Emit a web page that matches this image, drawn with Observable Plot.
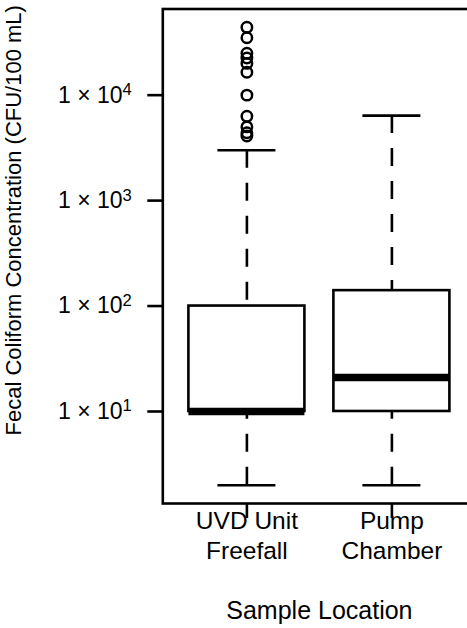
<!DOCTYPE html>
<html>
<head>
<meta charset="utf-8">
<script src="https://cdn.jsdelivr.net/npm/d3@7"></script>
<script src="https://cdn.jsdelivr.net/npm/@observablehq/plot@0.6"></script>
<style>
  html, body { margin: 0; padding: 0; background: #fff; }
  #chart { width: 467px; height: 628px; overflow: hidden; }
</style>
</head>
<body>
<div id="chart"></div>
<script>
// Sample locations (x categories)
const locations = ["UVD Unit\nFreefall", "Pump\nChamber"];

// Box-and-whisker statistics, CFU/100 mL
const lowerWhisker = [2, 2];
const firstQuartile = [10, 10];
const medians = [10, 21];
const thirdQuartile = [100, 140];
const upperWhisker = [3000, 6400];

// Outlying samples at the UVD unit freefall
const uvdOutliers = [44000, 35000, 25000, 22500, 20000, 16500, 10000, 6300, 5000, 4400, 4100];

// Y-axis tick values
const yTicks = [10, 100, 1000, 10000];

const yTitle = "Fecal Coliform Concentration (CFU/100 mL)";
const xTitle = "Sample Location";

const boxes = locations.map((name, i) => ({
  name,
  pos: i + 1,
  lo: lowerWhisker[i],
  q1: firstQuartile[i],
  med: medians[i],
  q3: thirdQuartile[i],
  hi: upperWhisker[i]
}));
const outliers = uvdOutliers.map(v => ({pos: 1, value: v}));

// log-scale extent padded by 4% on each side
const allValues = [...lowerWhisker, ...upperWhisker, ...uvdOutliers];
const lmin = Math.log10(d3.min(allValues));
const lmax = Math.log10(d3.max(allValues));
const pad = 0.04 * (lmax - lmin);
const yDomain = [10 ** (lmin - pad), 10 ** (lmax + pad)];
const xDomain = [0.5 - 0.08, locations.length + 0.5 + 0.08];

const halfBox = 0.4, halfCap = 0.2;
const lw = 2.6;

const chart = Plot.plot({
  width: 467,
  height: 628,
  marginLeft: 162.3,
  marginRight: -8.5,
  marginTop: 8.5,
  marginBottom: 125,
  style: {fontFamily: "'Liberation Sans', Arial, sans-serif", fontSize: "22px", color: "black", background: "white"},
  x: {domain: xDomain},
  y: {type: "log", domain: yDomain},
  marks: [
    // dashed whiskers, drawn from the whisker end toward the box
    Plot.ruleX(boxes, {x: "pos", y1: "lo", y2: "q1", stroke: "black", strokeWidth: lw, strokeDasharray: "18,15"}),
    Plot.ruleX(boxes, {x: "pos", y1: "hi", y2: "q3", stroke: "black", strokeWidth: lw, strokeDasharray: "18,15"}),
    // whisker caps
    Plot.ruleY(boxes, {y: "lo", x1: d => d.pos - halfCap, x2: d => d.pos + halfCap, stroke: "black", strokeWidth: lw}),
    Plot.ruleY(boxes, {y: "hi", x1: d => d.pos - halfCap, x2: d => d.pos + halfCap, stroke: "black", strokeWidth: lw}),
    // interquartile boxes
    Plot.rect(boxes, {x1: d => d.pos - halfBox, x2: d => d.pos + halfBox, y1: "q1", y2: "q3", fill: "white", stroke: "black", strokeWidth: lw}),
    // medians
    Plot.ruleY(boxes, {y: "med", x1: d => d.pos - halfBox, x2: d => d.pos + halfBox, stroke: "black", strokeWidth: 7.5}),
    // outliers
    Plot.dot(outliers, {x: "pos", y: "value", r: 5.2, stroke: "black", strokeWidth: 2.5, fill: "none"}),
    Plot.frame({stroke: "black", strokeWidth: lw}),
    Plot.axisY({
      ticks: yTicks,
      tickFormat: d => `1 × 10^${Math.round(Math.log10(d))}`,
      tickSize: 15,
      tickPadding: 16,
      strokeWidth: lw,
      fontSize: 23,
      label: null
    }),
    Plot.axisX({
      ticks: boxes.map(d => d.pos),
      tickFormat: p => locations[p - 1],
      tickSize: 15,
      tickPadding: -11,
      strokeWidth: lw,
      fontSize: 24.5,
      lineHeight: 1.22,
      label: null
    }),
    Plot.text([yTitle], {frameAnchor: "left", textAnchor: "middle", lineAnchor: "middle", rotate: -90, dx: -149, dy: -36, fontSize: 22, fill: "black"}),
    Plot.text([xTitle], {frameAnchor: "bottom", textAnchor: "middle", lineAnchor: "middle", dy: 107, fontSize: 25, fill: "black"})
  ]
});

// typeset the powers of ten as superscripts
d3.select(chart).selectAll('g[aria-label="y-axis tick label"] text').each(function() {
  const t = d3.select(this);
  const parts = t.text().split("^");
  if (parts.length !== 2) return;
  t.text(parts[0]);
  t.append("tspan").attr("dy", "-0.45em").attr("font-size", "72%").text(parts[1]);
});

document.getElementById("chart").appendChild(chart);
</script>
</body>
</html>
